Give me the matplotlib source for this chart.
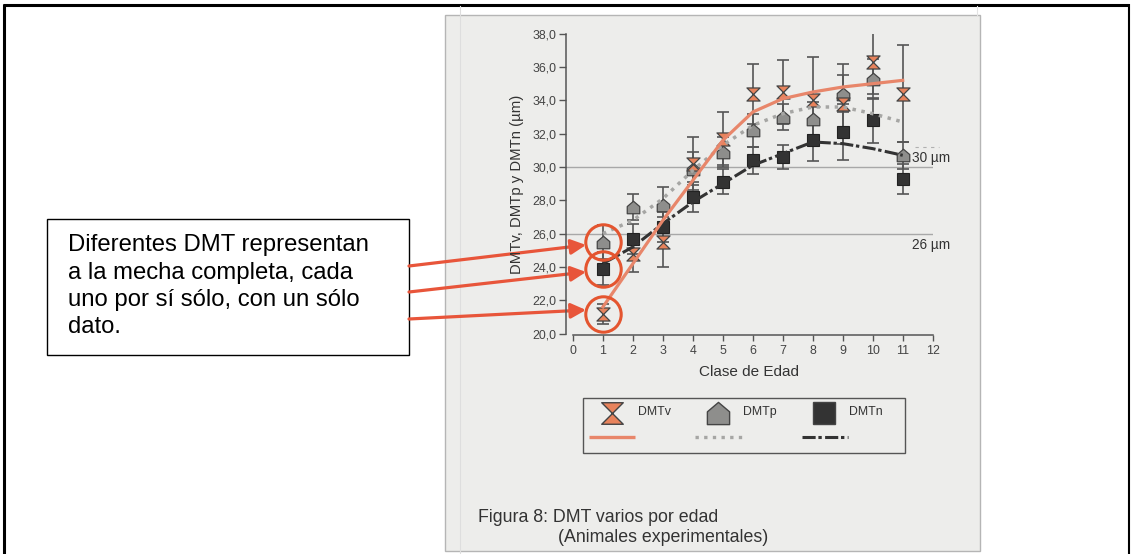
import matplotlib
matplotlib.use("Agg")
import matplotlib.pyplot as plt
from matplotlib.path import Path
from matplotlib.patches import Rectangle
from matplotlib.ticker import FuncFormatter, MultipleLocator

plt.rcParams['font.family'] = ['Liberation Sans', 'DejaVu Sans']

# ---------------- data ----------------
edad = [1, 2, 3, 4, 5, 6, 7, 8, 9, 10, 11]

dmtv = [21.2, 24.8, 25.5, 30.2, 31.7, 34.4, 34.5, 34.0, 33.8, 36.3, 34.4]
dmtv_err = [0.6, 1.1, 1.5, 1.6, 1.6, 1.8, 1.9, 2.6, 2.4, 1.9, 2.9]

dmtp = [25.5, 27.6, 27.7, 29.9, 30.9, 32.2, 33.0, 32.9, 34.4, 35.3, 30.7]
dmtp_err = [1.0, 0.8, 1.1, 1.0, 0.9, 1.0, 0.8, 1.0, 1.1, 1.2, 0.8]

dmtn = [23.9, 25.7, 26.4, 28.2, 29.1, 30.4, 30.6, 31.6, 32.1, 32.8, 29.3]
dmtn_err = [1.0, 0.9, 0.9, 0.9, 0.75, 0.8, 0.7, 1.25, 1.7, 1.35, 0.9]

fit_v = [21.6, 24.2, 26.8, 29.2, 31.6, 33.3, 34.1, 34.5, 34.8, 35.0, 35.2]
fit_p = [26.0, 26.8, 28.1, 29.8, 31.3, 32.5, 33.2, 33.6, 33.6, 33.2, 32.7]
fit_n = [24.2, 25.2, 26.6, 27.9, 29.0, 30.1, 30.8, 31.5, 31.4, 31.1, 30.7]

ref_lines = [30, 26]
ref_labels = ["30 µm", "26 µm"]

series_names = ["DMTv", "DMTp", "DMTn"]

ylabel = "DMTv, DMTp y DMTn (µm)"
xlabel = "Clase de Edad"
caption1 = "Figura 8: DMT varios por edad"
caption2 = "(Animales experimentales)"
note_lines = ["Diferentes DMT representan",
              "a la mecha completa, cada",
              "uno por sí sólo, con un sólo",
              "dato."]

# ---------------- styles ----------------
ORANGE_FILL = "#e8835c"
ORANGE_LINE = "#e8866a"
RED = "#e4552f"
GRAY_FILL = "#8e8e8c"
GRAY_LINE = "#a6a6a4"
DARK = "#333333"
PANEL = "#ededeb"

hourglass = Path([(-1, 1), (1, 1), (0, 0), (-1, 1), (0, 0), (-1, -1), (1, -1), (0, 0)],
                 [Path.MOVETO, Path.LINETO, Path.LINETO, Path.CLOSEPOLY,
                  Path.MOVETO, Path.LINETO, Path.LINETO, Path.CLOSEPOLY])
house = Path([(-1, -1), (1, -1), (1, 0.15), (0, 1), (-1, 0.15), (-1, -1)],
             [Path.MOVETO] + [Path.LINETO] * 4 + [Path.CLOSEPOLY])

W, H = 1132, 554
fig = plt.figure(figsize=(W / 100, H / 100), dpi=100)
fig.patch.set_facecolor("white")

# background / overlay axes in pixel coordinates
bg = fig.add_axes([0, 0, 1, 1], zorder=0)
bg.set_xlim(0, W)
bg.set_ylim(H, 0)
bg.axis("off")

# outer frame
bg.plot([3, 1129], [4.5, 4.5], color="black", lw=2.2, solid_capstyle="butt")
bg.plot([4, 4], [4, H], color="black", lw=2.2, solid_capstyle="butt")
bg.plot([1128.5, 1128.5], [4, H], color="black", lw=1.5, solid_capstyle="butt")
# faint guide lines
bg.plot([460, 460], [6, H], color="#dedede", lw=0.8)
bg.plot([977, 977], [6, 15], color="#e4e4e4", lw=0.8)

# gray panel
bg.add_patch(Rectangle((445, 15), 535, 536, facecolor=PANEL, edgecolor="#b5b5b5", lw=1.0))

# note box
bg.add_patch(Rectangle((47, 219), 362, 136, facecolor="white", edgecolor="black", lw=1.0, zorder=2))
for i, line in enumerate(note_lines):
    bg.text(68, 251.5 + 27.3 * i, line, fontsize=17.2, color="black", va="baseline",
            ha="left", zorder=3)

# captions
bg.text(478, 517, caption1, fontsize=12.8, color="#333333", va="center", ha="left")
bg.text(558, 537, caption2, fontsize=12.8, color="#333333", va="center", ha="left")

# legend (manual)
bg.add_patch(Rectangle((583, 398), 322, 55, facecolor="none", edgecolor="#555555", lw=1.0))
leg_x = [612, 718, 824]
leg_txt_x = [638, 743, 849]
leg_markers = [hourglass, house, "s"]
leg_fill = [ORANGE_FILL, GRAY_FILL, DARK]
leg_ms = [15.5, 16, 15.5]
for i in range(3):
    bg.plot(leg_x[i], 413, marker=leg_markers[i], ms=leg_ms[i], mfc=leg_fill[i],
            mec="#444444", mew=1.0, ls="none")
    bg.text(leg_txt_x[i], 412, series_names[i], fontsize=8.9, color="#333333",
            va="center", ha="left")
bg.plot([589, 635], [437, 437], color=ORANGE_LINE, lw=2.4, solid_capstyle="butt")
bg.plot([695, 742], [437, 437], color=GRAY_LINE, lw=2.4, ls=(0, (1.0, 1.6)),
        dash_capstyle="butt")
bg.plot([802, 848], [437, 437], color=DARK, lw=2.2, ls=(0, (4.3, 0.9, 1.1, 1.1)),
        dash_capstyle="butt")

# ---------------- data axes ----------------
ax_left, ax_right = 566, 932.7
ax_top, ax_bottom = 33.7, 335.2
ax = fig.add_axes([ax_left / W, (H - ax_bottom) / H, (ax_right - ax_left) / W,
                   (ax_bottom - ax_top) / H], zorder=1)
ax.patch.set_alpha(0)
ax.set_xlim(-0.233, 12)
ax.set_ylim(19.9, 38)

for s in ["top", "right"]:
    ax.spines[s].set_visible(False)
ax.spines["left"].set_bounds(20, 38)
ax.spines["bottom"].set_bounds(0, 12)
for s in ["left", "bottom"]:
    ax.spines[s].set_color("#555555")
    ax.spines[s].set_linewidth(1.1)

ax.xaxis.set_major_locator(MultipleLocator(1))
ax.yaxis.set_major_locator(MultipleLocator(2))
ax.yaxis.set_major_formatter(FuncFormatter(lambda v, p: f"{v:.1f}".replace(".", ",")))
ax.tick_params(axis="y", length=5, width=1.0, color="#555555", pad=2,
               labelsize=8.9, labelcolor="#444444")
ax.tick_params(axis="x", length=4, width=1.0, color="#555555", pad=3,
               labelsize=8.9, labelcolor="#444444")
ax.set_xlabel(xlabel, fontsize=11, color="#333333", labelpad=6)
ax.set_ylabel(ylabel, fontsize=10.7, color="#333333", labelpad=6)

# reference lines
for yv in ref_lines:
    ax.plot([-0.233, 12], [yv, yv], color="#a8a8a8", lw=1.0, zorder=1)
ax.text(11.31, 30.55, ref_labels[0], fontsize=9.8, color="#333333", va="center", ha="left")
ax.text(11.31, 25.32, ref_labels[1], fontsize=9.8, color="#333333", va="center", ha="left")
ax.plot([11.4, 12.2], [31.2, 31.2], color="#b0b0b0", lw=0.8, ls=(0, (3, 4)), clip_on=False)

# error bars
err_kw = dict(fmt="none", ecolor="#555555", elinewidth=1.2, capsize=4.4, capthick=1.2, zorder=2)
ax.errorbar(edad, dmtv, yerr=dmtv_err, **err_kw)
ax.errorbar(edad, dmtp, yerr=dmtp_err, **err_kw)
ax.errorbar(edad, dmtn, yerr=dmtn_err, **err_kw)

# markers
ax.plot(edad, dmtn, ls="none", marker="s", ms=8.0, mfc=DARK, mec="#222222", mew=0.8, zorder=3)
ax.plot(edad, dmtp, ls="none", marker=house, ms=9.0, mfc=GRAY_FILL, mec="#444444", mew=0.9, zorder=3)
ax.plot(edad, dmtv, ls="none", marker=hourglass, ms=9.4, mfc=ORANGE_FILL, mec="#444444", mew=0.9, zorder=3)

# fitted curves
ax.plot(edad, fit_p, color=GRAY_LINE, lw=2.5, ls=(0, (1.0, 1.6)), dash_capstyle="butt", zorder=4)
ax.plot(edad, fit_n, color=DARK, lw=2.2, ls=(0, (4.3, 0.9, 1.1, 1.1)), dash_capstyle="butt", zorder=4)
ax.plot(edad, fit_v, color=ORANGE_LINE, lw=2.3, zorder=5)

# highlight circles on first age class
for v in [dmtp[0], dmtn[0], dmtv[0]]:
    ax.plot(edad[0], v, ls="none", marker="o", ms=25.5, mfc="none", mec=RED, mew=2.2, zorder=6)

# arrows from note box to circles
arrow_starts = [(409, 266), (409, 292), (409, 319)]
arrow_ends = [(586, 245), (586, 272), (586, 310)]
for (x0, y0), (x1, y1) in zip(arrow_starts, arrow_ends):
    bg.annotate("", xy=(x1, y1), xytext=(x0, y0), xycoords="data", textcoords="data",
                arrowprops=dict(arrowstyle="-|>,head_length=0.9,head_width=0.45",
                                color="#e8553a", lw=2.3, shrinkA=0, shrinkB=0),
                zorder=5)

fig.savefig("out.png", dpi=100)
